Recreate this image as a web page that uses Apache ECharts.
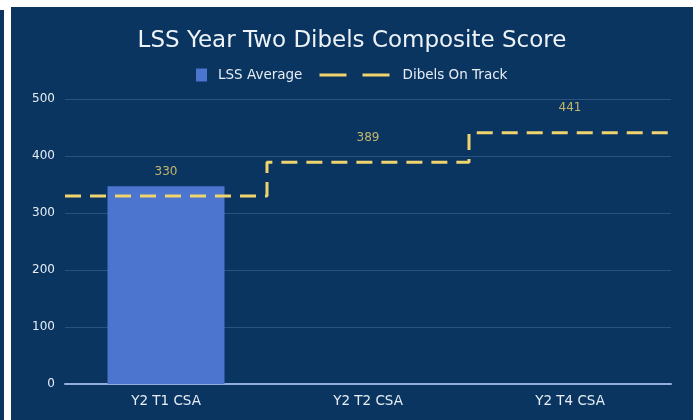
<!DOCTYPE html>
<html>
<head>
<meta charset="utf-8">
<script src="https://cdn.jsdelivr.net/npm/echarts@6/dist/echarts.min.js"></script>
<style>
html,body{margin:0;padding:0;background:#ffffff;width:699px;height:420px;overflow:hidden;}
#strip{position:absolute;left:0;top:10px;width:4px;height:410px;background:#0b3561;}
#main{position:absolute;left:11px;top:7px;width:682px;height:413px;background:#0b3561;}
</style>
</head>
<body>
<div id="strip"></div>
<div id="main"></div>
<script>
var categories = ['Y2 T1 CSA', 'Y2 T2 CSA', 'Y2 T4 CSA'];
var lssAverage = [347, null, null];
var onTrack = [330, 389, 441];
var yTicks = [0, 100, 200, 300, 400, 500];

var FONT = 'DejaVu Sans';
var YEL = '#f0d46e';
var stepData = onTrack.map(function (v, i) { return [i, v]; });
stepData.push([onTrack.length, onTrack[onTrack.length - 1]]);

var chart = echarts.init(document.getElementById('main'));
chart.setOption({
  backgroundColor: '#0b3561',
  animation: false,
  title: {
    text: 'LSS Year Two Dibels Composite Score',
    left: 'center', top: 18,
    textStyle: {color: '#eef3f8', fontFamily: FONT, fontSize: 23, fontWeight: 'normal'}
  },
  legend: [{
    data: ['LSS Average'],
    left: 180, top: 56,
    itemWidth: 11, itemHeight: 13,
    icon: 'rect',
    textStyle: {color: '#e6edf5', fontFamily: FONT, fontSize: 13.5, padding: [0, 0, 0, 6]}
  }, {
    data: [{
      name: 'Dibels On Track',
      lineStyle: {type: [27, 16], width: 3, color: YEL},
      itemStyle: {color: 'rgba(0,0,0,0)', borderWidth: 0, opacity: 0}
    }],
    left: 302, top: 56,
    itemWidth: 70, itemHeight: 13,
    textStyle: {color: '#e6edf5', fontFamily: FONT, fontSize: 13.5, padding: [0, 0, 0, 8]}
  }],
  grid: {left: 54, right: 22, top: 92, bottom: 36},
  xAxis: [{
    type: 'category',
    data: categories,
    boundaryGap: true,
    axisLine: {lineStyle: {color: '#8fb0dc', width: 2}},
    axisTick: {show: false},
    axisLabel: {color: '#e6edf5', fontFamily: FONT, fontSize: 13.5, margin: 10}
  }, {
    type: 'value', min: 0, max: categories.length, show: false
  }],
  yAxis: {
    type: 'value', min: yTicks[0], max: yTicks[yTicks.length - 1], interval: 100,
    axisLine: {show: false}, axisTick: {show: false},
    splitLine: {lineStyle: {color: '#2a5180', width: 1}},
    axisLabel: {color: '#e6edf5', fontFamily: FONT, fontSize: 12, margin: 10}
  },
  series: [{
    name: 'LSS Average',
    type: 'bar',
    data: lssAverage,
    barWidth: 117,
    itemStyle: {color: '#4b75cf'}
  }, {
    name: 'Dibels On Track',
    type: 'line',
    xAxisIndex: 1,
    data: stepData,
    step: 'end',
    showSymbol: false,
    symbol: 'none',
    lineStyle: {color: YEL, width: 3, type: [16, 9]},
    itemStyle: {color: YEL},
    z: 3
  }, {
    name: 'labels',
    type: 'scatter',
    data: onTrack,
    symbolSize: 1,
    itemStyle: {color: 'rgba(0,0,0,0)'},
    label: {show: true, position: 'top', distance: 18, color: YEL, fontFamily: FONT, fontSize: 12},
    silent: true,
    z: 4
  }]
});
</script>
</body>
</html>
